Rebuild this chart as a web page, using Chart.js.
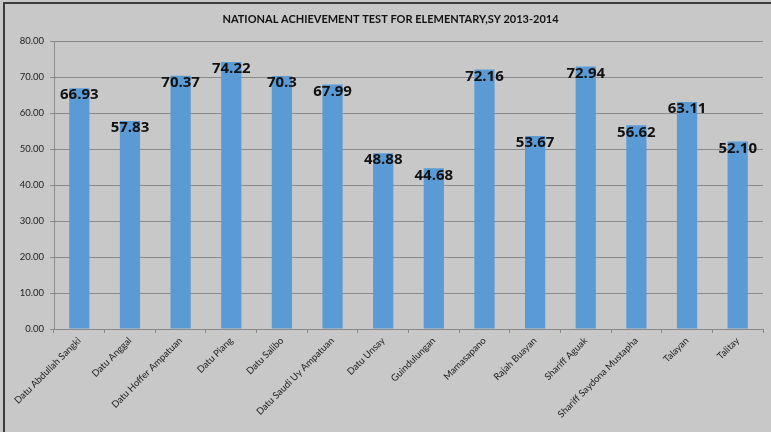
<!DOCTYPE html>
<html>
<head>
<meta charset="utf-8">
<script src="https://cdn.jsdelivr.net/npm/chart.js@4"></script>
<style>
  html, body { margin: 0; padding: 0; background: #c8c8c8; }
  canvas { display: block; }
</style>
</head>
<body>
<canvas id="myChart" width="771" height="432"></canvas>
<script>
const schools = [
  "Datu Abdullah Sangki", "Datu Anggal", "Datu Hoffer Ampatuan", "Datu Piang",
  "Datu Salibo", "Datu Saudi Uy Ampatuan", "Datu Unsay", "Guindulungan",
  "Mamasapano", "Rajah Buayan", "Shariff Aguak", "Shariff Saydona Mustapha",
  "Talayan", "Talitay"
];
const scores = [66.93, 57.83, 70.37, 74.22, 70.3, 67.99, 48.88, 44.68, 72.16, 53.67, 72.94, 56.62, 63.11, 52.10];
const scoreLabels = ["66.93", "57.83", "70.37", "74.22", "70.3", "67.99", "48.88", "44.68", "72.16", "53.67", "72.94", "56.62", "63.11", "52.10"];
const yTicks = [0, 10, 20, 30, 40, 50, 60, 70, 80];

// background + the dark frame on top and left
const frame = {
  id: "frame",
  beforeDraw(chart) {
    const ctx = chart.ctx;
    ctx.save();
    ctx.fillStyle = "#c8c8c8";
    ctx.fillRect(0, 0, chart.width, chart.height);
    ctx.fillStyle = "#3c3c3c";
    ctx.fillRect(3, 2, chart.width - 3, 2);
    ctx.fillRect(3, 2, 2, chart.height - 2);
    ctx.restore();
  }
};

// value labels near the top of each bar
const valueLabels = {
  id: "valueLabels",
  afterDatasetsDraw(chart) {
    const ctx = chart.ctx;
    const meta = chart.getDatasetMeta(0);
    ctx.save();
    ctx.font = "bold 15px 'Open Sans'";
    ctx.fillStyle = "#111111";
    ctx.textAlign = "center";
    ctx.textBaseline = "middle";
    meta.data.forEach((bar, i) => {
      ctx.fillText(scoreLabels[i], bar.x, bar.y + 7);
    });
    ctx.restore();
  }
};

const config = {
  type: "bar",
  data: {
    labels: schools,
    datasets: [
      {
        data: scores,
        backgroundColor: "#5b9bd5",
        barPercentage: 0.4,
        categoryPercentage: 1,
      },
    ],
  },
  options: {
    responsive: false,
    animation: false,
    layout: { padding: { left: 18, right: 8, top: 0, bottom: 0 } },
    plugins: {
      legend: { display: false },
      tooltip: { enabled: false },
      title: {
        display: true,
        text: "NATIONAL ACHIEVEMENT TEST FOR ELEMENTARY,SY 2013-2014",
        color: "#111111",
        font: { family: "Lato", size: 11, weight: "bold", lineHeight: 1.2 },
        padding: { top: 13, bottom: 15 },
      },
    },
    scales: {
      x: {
        grid: { drawOnChartArea: false, drawTicks: true, tickLength: 4, color: "#8a8a8a" },
        border: { color: "#8a8a8a" },
        ticks: {
          color: "#222222",
          font: { family: "Lato", size: 9.5 },
          minRotation: 45,
          maxRotation: 45,
          autoSkip: false,
          padding: 2,
        },
        afterFit(scale) { scale.height = 103; },
      },
      y: {
        min: 0,
        max: 80,
        afterBuildTicks(scale) { scale.ticks = yTicks.map(v => ({ value: v })); },
        grid: { color: "#8a8a8a", tickLength: 4 },
        border: { color: "#8a8a8a" },
        ticks: {
          color: "#222222",
          font: { family: "Lato", size: 9.5 },
          padding: 6,
          callback: v => v.toFixed(2),
        },
        afterFit(scale) { scale.width = 36; },
      },
    },
  },
  plugins: [frame, valueLabels],
};

const myChart = new Chart(document.getElementById("myChart"), config);
</script>
</body>
</html>
